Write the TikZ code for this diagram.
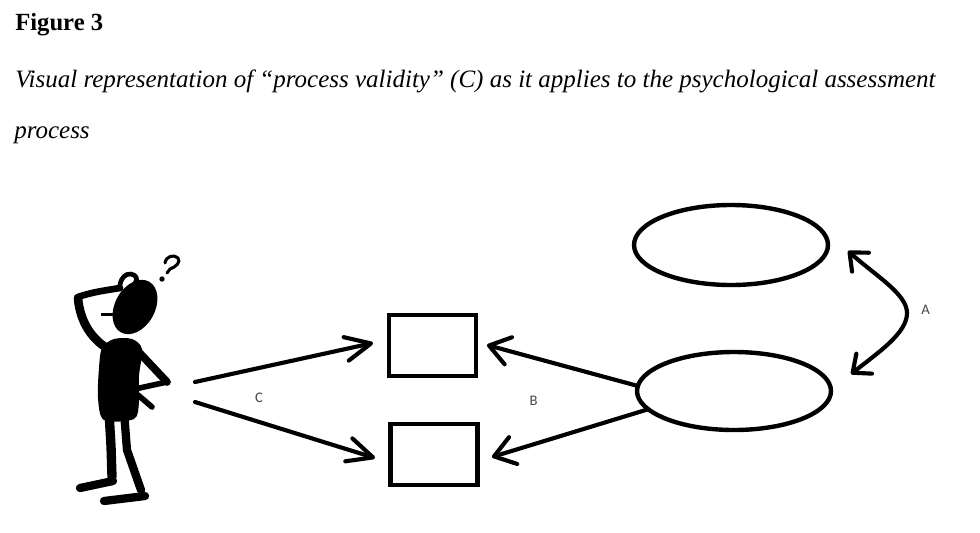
\documentclass[tikz,border=0pt]{standalone}
\usepackage{fontspec}
\setmainfont{Liberation Serif}
\newfontfamily\labfont{Carlito}
\usetikzlibrary{arrows.meta,shapes.geometric}
\definecolor{labgray}{RGB}{72,72,72}
\begin{document}
\begin{tikzpicture}[x=0.75pt,y=-0.75pt,
  shapeline/.style={draw=black,line width=3.3pt,inner sep=0pt,outer sep=0pt},
  boxnode/.style={shapeline,rectangle,minimum width=65.25pt,minimum height=45.75pt},
  ovalnode/.style={shapeline,ellipse,minimum width=145.5pt},
  conn/.style={draw=black,line width=3.1pt,line cap=round,line join=round},
  barbC/.style={conn,-{Straight Barb[length=19pt,width=18pt,round]}},
  barbB/.style={conn,-{Straight Barb[length=15pt,width=21pt,round]}},
  barbA/.style={conn,{Straight Barb[length=11pt,width=19pt,round]}-{Straight Barb[length=11pt,width=19pt,round]}},
  lab/.style={font=\labfont\fontsize{11}{13}\selectfont,text=labgray,inner sep=0pt},
  limb/.style={draw=black,line cap=round,line join=round},
  titletext/.style={anchor=base west,inner sep=0pt}
]
\useasboundingbox[fill=white] (0,0) rectangle (980,532);

% titles
\node[titletext,font=\fontsize{18.5}{22}\selectfont\bfseries] (fig) at (15,30) {Figure 3};
\node[titletext,font=\fontsize{18.75}{22}\selectfont\itshape] (cap1) at (15,87) {Visual representation of “process validity” (C) as it applies to the psychological assessment};
\node[titletext,font=\fontsize{18.75}{22}\selectfont\itshape] (cap2) at (14,138) {process};

% thinking figure
\fill[rotate around={61:(135,307)}] (135,307) ellipse [x radius=29, y radius=20];
\draw[limb,line width=2.5pt,line cap=butt] (101,314.5) -- (117,314.5);
\draw[limb,line width=6.5pt] (110,350) .. controls (92,340) and (80,322) .. (78,298);
\draw[limb,line width=5pt] (78,297) .. controls (92,292) and (108,290) .. (120,288);
\draw[limb,line width=3.5pt] (120,289) .. controls (119,279) and (126,273) .. (131,274) .. controls (137,275) and (138,280) .. (135,283);
\fill plot[smooth cycle] coordinates {(102,348) (114,339) (132,339) (142,349) (139,376) (139,402) (134,419) (104,420) (98,398) (99,368)};
\draw[limb,line width=5.8pt] (134,347) -- (167,382);
\draw[limb,line width=4.2pt] (167,382) -- (135,389);
\draw[limb,line width=4.2pt] (138,395) -- (152,407);
\draw[limb,line width=7pt] (109,412) -- (111,446) -- (112,477);
\draw[limb,line width=6.2pt] (113,481) -- (80,488);
\draw[limb,line width=6.2pt] (124,412) -- (127,450) -- (141,490);
\draw[limb,line width=6.2pt] (145,496) -- (104,501);
% question mark
\draw[limb,line width=2.3pt] (165,263) .. controls (166,256) and (174,254) .. (178,258) .. controls (181,262) and (176,267) .. (170,269) -- (167,273);
\fill (162,279) circle [radius=2.7];

% boxes and ellipses
\node[boxnode] (box1) at (432.5,345.5) {};
\node[boxnode] (box2) at (434,454.5) {};
\node[ovalnode,minimum height=60pt] (e1) at (731,245) {};
\node[ovalnode,minimum height=58.5pt] (e2) at (734,391) {};

% connector ends
\coordinate (c1s) at (195,382);
\coordinate (c2s) at (195,402);
\coordinate (c1e) at (373,343);
\coordinate (c2e) at (375,458);
\coordinate (b1e) at (487,345);
\coordinate (b2e) at (492,457);
\coordinate (a1) at (848,251);
\coordinate (am) at (907,313);
\coordinate (a2) at (851,374);

% connectors
\draw[barbC] (c1s) -- (c1e);
\draw[barbC] (c2s) -- (c2e);
\draw[barbB] (e2.177) -- (b1e);
\draw[barbB] (e2.192) -- (b2e);
\draw[barbA] (a1) .. controls (876,276) and (907,294) .. (am) .. controls (907,333) and (879,352) .. (a2);

% labels
\node[lab] (lc) at (259,397.5) {C};
\node[lab] (lb) at (533.5,400.5) {B};
\node[lab] (la) at (925.5,310) {A};
\end{tikzpicture}
\end{document}
